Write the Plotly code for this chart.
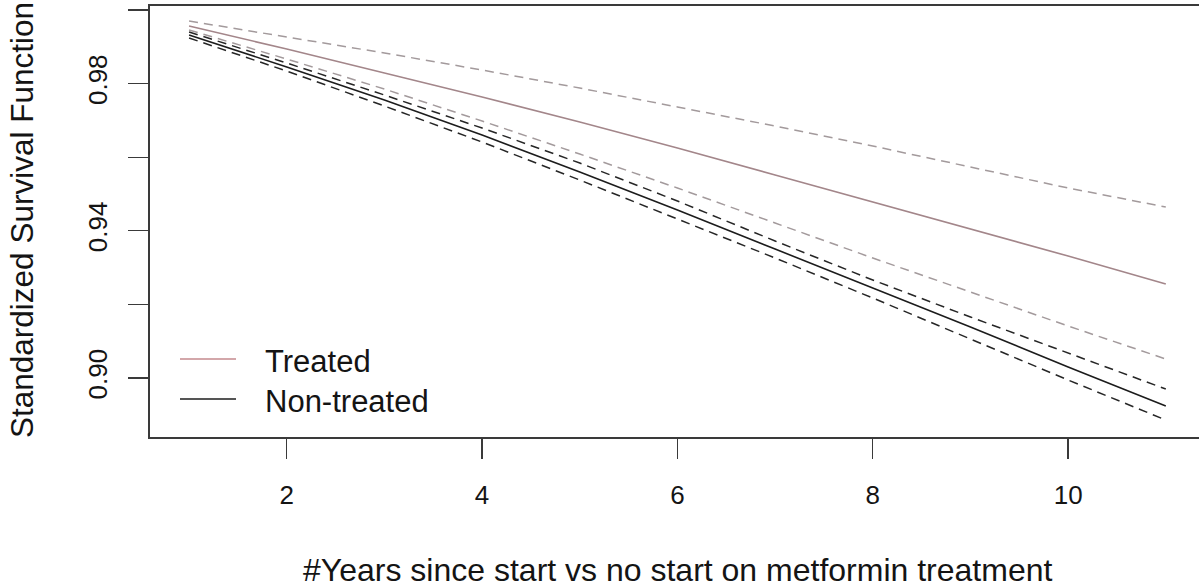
import plotly.graph_objects as go

# ---- data ----
years = [1, 2, 3, 4, 5, 6, 7, 8, 9, 10, 11]

treated = [0.99565, 0.98940, 0.98288, 0.97636, 0.96957, 0.96250, 0.95516, 0.94783, 0.94049, 0.93315, 0.92554]
treated_upper = [0.99701, 0.99266, 0.98832, 0.98370, 0.97880, 0.97364, 0.96848, 0.96304, 0.95734, 0.95163, 0.94647]
treated_lower = [0.99457, 0.98668, 0.97853, 0.96984, 0.96087, 0.95163, 0.94212, 0.93261, 0.92337, 0.91413, 0.90516]

nontreated = [0.99321, 0.98451, 0.97554, 0.96603, 0.95598, 0.94565, 0.93505, 0.92446, 0.91386, 0.90299, 0.89239]
nontreated_upper = [0.99402, 0.98560, 0.97690, 0.96793, 0.95842, 0.94810, 0.93723, 0.92663, 0.91658, 0.90679, 0.89701]
nontreated_lower = [0.99239, 0.98342, 0.97391, 0.96413, 0.95380, 0.94321, 0.93261, 0.92174, 0.91060, 0.89946, 0.88859]

x_ticks = [2, 4, 6, 8, 10]
x_tick_labels = ["2", "4", "6", "8", "10"]
y_ticks = [0.90, 0.92, 0.94, 0.96, 0.98, 1.00]
y_tick_labels = ["0.90", "", "0.94", "", "0.98", ""]

legend_labels = ["Treated", "Non-treated"]

# ---- styles ----
FONT = "Liberation Sans, Arial, sans-serif"
TXT = "#141414"
AX = "#3a3a3a"
C_TREAT = "#a3868a"
C_TREAT_CI = "#a39a9c"
C_NON = "#1c1c1c"
C_NON_CI = "#262626"
DASH = "9px,6px"

fig = go.Figure()

def add(y, color, dash, width=1.5):
    fig.add_trace(go.Scatter(x=years, y=y, mode="lines", showlegend=False,
                             line=dict(color=color, width=width, dash=dash),
                             hoverinfo="skip"))

add(treated_upper, C_TREAT_CI, DASH)
add(treated_lower, C_TREAT_CI, DASH)
add(treated, C_TREAT, "solid", 1.6)
add(nontreated_upper, C_NON_CI, DASH)
add(nontreated_lower, C_NON_CI, DASH)
add(nontreated, C_NON, "solid", 1.6)

W, H = 1199, 588
L, R, T, B = 150, 0, 6, 151
pw = W - L - R
ph = H - T - B

def px(xp):
    return (xp - L) / pw

def py(yp):
    return (H - B - yp) / ph

fig.update_layout(
    width=W, height=H,
    margin=dict(l=L, r=R, t=T, b=B, pad=0),
    paper_bgcolor="white", plot_bgcolor="white",
    font=dict(family=FONT, color=TXT, size=24),
    xaxis=dict(range=[0.6, 11.34], tickvals=x_ticks, ticktext=x_tick_labels,
               ticks="outside", ticklen=20, tickwidth=1.3, tickcolor=AX,
               showline=True, linecolor=AX, linewidth=1.6, mirror=True,
               showgrid=False, zeroline=False, ticklabelstandoff=14,
               tickfont=dict(size=26, family=FONT, color=TXT)),
    yaxis=dict(range=[0.88397, 1.00109], tickvals=y_ticks, ticktext=y_tick_labels,
               ticks="outside", ticklen=20, tickwidth=1.3, tickcolor=AX,
               showline=True, linecolor=AX, linewidth=1.6, mirror=False,
               showgrid=False, zeroline=False, tickangle=-90, ticklabelstandoff=11,
               tickfont=dict(size=26, family=FONT, color=TXT)),
)

# axis titles
fig.add_annotation(text="#Years since start vs no start on metformin treatment",
                   xref="paper", yref="paper", x=px(677), y=py(570),
                   xanchor="center", yanchor="middle", showarrow=False,
                   font=dict(size=32, family=FONT, color=TXT))
fig.add_annotation(text="Standardized Survival Function",
                   xref="paper", yref="paper", x=px(22), y=py(220),
                   xanchor="center", yanchor="middle", showarrow=False, textangle=-90,
                   font=dict(size=31.5, family=FONT, color=TXT))

# legend (drawn manually to match the R legend layout)
leg_colors = ["#c48a8e", "#1c1c1c"]
leg_y = [359, 399]
for lab, col, yy in zip(legend_labels, leg_colors, leg_y):
    fig.add_shape(type="line", xref="paper", yref="paper",
                  x0=px(180), x1=px(236), y0=py(yy), y1=py(yy),
                  line=dict(color=col, width=1.5))
    fig.add_annotation(text=lab, xref="paper", yref="paper", x=px(263), y=py(yy + 2),
                       xanchor="left", yanchor="middle", showarrow=False,
                       font=dict(size=31, family=FONT, color=TXT))

fig.write_html("out.html", config={"displayModeBar": False, "staticPlot": True},
               post_script="document.body.style.margin='0px';document.body.style.overflow='hidden';")
